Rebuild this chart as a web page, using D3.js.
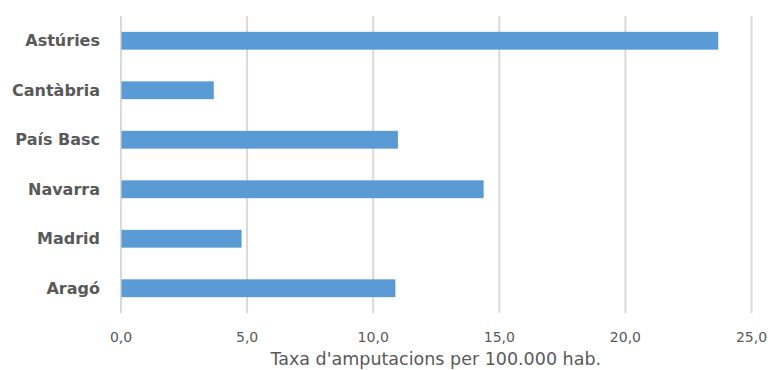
<!DOCTYPE html>
<html><head><meta charset="utf-8">
<script src="https://cdn.jsdelivr.net/npm/d3@7"></script>
<style>body{margin:0;background:#fff;} svg{display:block;}</style>
</head><body>
<svg id="c" width="772" height="370"></svg>
<script>
const categories = ["Astúries","Cantàbria","País Basc","Navarra","Madrid","Aragó"];
const values = [23.7, 3.7, 11.0, 14.4, 4.8, 10.9];
const tickValues = [0,5,10,15,20,25];
const axisTitle = "Taxa d'amputacions per 100.000 hab.";

const svg = d3.select("#c");
const mLeft = 120.5, mRight = 751, mTop = 16, mBottom = 313;
const x = d3.scaleLinear().domain([0,25]).range([mLeft,mRight]);
const y = d3.scaleBand().domain(categories).range([mTop,mBottom]).paddingInner(0.64).paddingOuter(0.32);
const font = "'DejaVu Sans', sans-serif";

// gridlines + tick labels via axis
const gx = svg.append("g").attr("transform",`translate(0,${mBottom})`)
  .call(d3.axisBottom(x).tickValues(tickValues).tickSize(-(mBottom-mTop)).tickPadding(19)
    .tickFormat(d=>d3.format(".1f")(d).replace(".",",")));
gx.select(".domain").remove();
gx.selectAll(".tick line").attr("stroke","#d9d9d9").attr("stroke-width",2);
gx.selectAll(".tick text").attr("font-family",font).attr("font-size",14).attr("fill","#595959");

// bars
svg.append("g").selectAll("rect").data(values).join("rect")
  .attr("x",x(0)+1).attr("y",(d,i)=>y(categories[i]))
  .attr("width",d=>x(d)-x(0)-1).attr("height",y.bandwidth())
  .attr("fill","#5b9bd5");

// category labels
svg.append("g").selectAll("text").data(categories).join("text")
  .attr("x",100).attr("y",d=>y(d)+y.bandwidth()/2)
  .attr("dy","0.35em").attr("text-anchor","end")
  .attr("font-family",font).attr("font-weight","bold")
  .attr("font-size",16).attr("fill","#595959").text(d=>d);

// axis title
svg.append("text").attr("x",(mLeft+mRight)/2).attr("y",359).attr("dy","0.35em")
  .attr("text-anchor","middle").attr("font-family",font)
  .attr("font-size",17.5).attr("fill","#595959").text(axisTitle);
</script>
</body></html>
